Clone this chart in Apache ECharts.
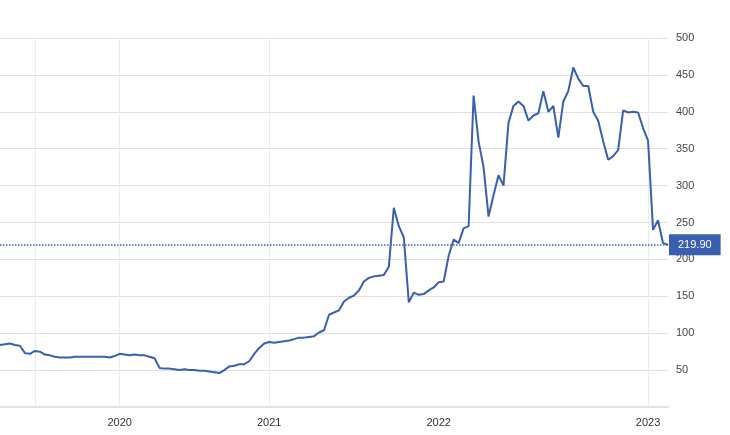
<!DOCTYPE html>
<html>
<head>
<meta charset="utf-8">
<script src="https://cdn.jsdelivr.net/npm/echarts@6/dist/echarts.min.js"></script>
<style>html,body{margin:0;padding:0;background:#fff}#chart{width:730px;height:435px}</style>
</head>
<body>
<div id="chart"></div>
<script>
const prices = [
  84, 85, 86, 84, 83, 73, 72, 76, 75, 71, 70, 68, 67, 67, 67, 68, 68, 68, 68, 68,
  68, 68, 67, 69, 72, 71, 70, 71, 70, 70, 68, 66, 53, 52, 52, 51, 50, 51, 50, 50,
  49, 49, 48, 47, 46, 50, 55, 56, 58, 58, 62, 72, 80, 86, 88, 87, 88, 89, 90, 92,
  94, 94, 95, 96, 101, 104, 125, 128, 131, 143, 148, 151, 158, 170, 175, 177, 178, 179, 190, 270,
  245, 230, 142, 155, 152, 153, 158, 162, 169, 170, 205, 227, 222, 242, 245, 422, 360, 325, 258, 287,
  314, 300, 385, 408, 414, 408, 388, 395, 398, 428, 400, 408, 365, 414, 428, 460, 445, 435, 435, 400,
  388, 360, 335, 340, 348, 402, 399, 400, 399, 378, 361, 240, 253, 222, 219.9
];
const categories = prices.map((_, i) => String(i));
// index of each year label on the category axis
const yearTicks = { 24: '2020', 54: '2021', 88: '2022', 130: '2023' };
const gridTicks = [7, 24, 54, 130];
const lastPrice = 219.9;

const chart = echarts.init(document.getElementById('chart'));
chart.setOption({
  animation: false,
  grid: { left: 0, right: 62, top: 38, bottom: 28 },
  xAxis: {
    type: 'category',
    data: categories,
    boundaryGap: false,
    axisLine: { lineStyle: { color: '#dfe2e7', width: 2 } },
    axisTick: { show: false },
    axisLabel: {
      interval: i => i in yearTicks,
      formatter: (v, i) => yearTicks[i] || '',
      color: '#333',
      fontFamily: 'Arial',
      fontSize: 11,
      margin: 10
    },
    splitLine: {
      show: true,
      interval: i => gridTicks.includes(i),
      lineStyle: { color: '#e8ebf0' }
    }
  },
  yAxis: {
    type: 'value',
    position: 'right',
    min: 0,
    max: 500,
    interval: 50,
    axisLine: { show: false },
    axisTick: { show: false },
    axisLabel: {
      showMinLabel: false,
      color: '#444',
      fontFamily: 'Arial',
      fontSize: 11,
      margin: 8
    },
    splitLine: { lineStyle: { color: '#e0e0e0' } }
  },
  series: [{
    type: 'line',
    data: prices,
    symbol: 'none',
    lineStyle: { color: '#3a5fb0', width: 2 },
    markLine: {
      symbol: 'none',
      silent: true,
      lineStyle: { color: '#3a5fb0', type: 'dotted', width: 1.5 },
      label: {
        position: 'end',
        formatter: lastPrice.toFixed(2),
        color: '#fff',
        backgroundColor: '#3a5fb0',
        padding: [5, 9],
        fontFamily: 'Arial',
        fontSize: 11,
        distance: 1
      },
      data: [{ yAxis: lastPrice }]
    }
  }]
});
</script>
</body>
</html>
